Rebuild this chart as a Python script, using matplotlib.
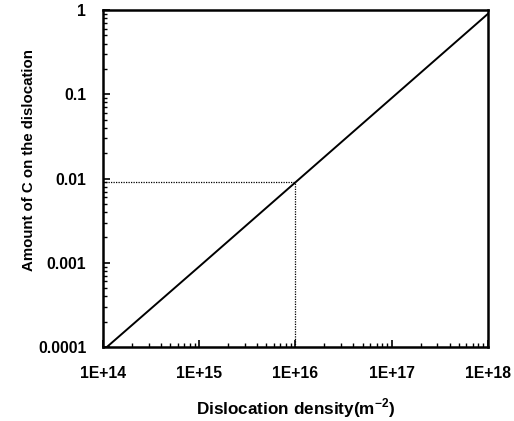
import numpy as np
import matplotlib
matplotlib.use("Agg")
import matplotlib.pyplot as plt
from matplotlib.ticker import LogLocator, FixedLocator, NullFormatter

# dislocation density (m^-2) vs amount of C on dislocations
density = [1.1e14, 1e15, 1e16, 1e17, 1e18]
carbon = [1e-4, 9e-4, 9e-3, 9e-2, 0.9]

# reference point marked with dotted guide lines
ref_density = 1e16
ref_carbon = 9e-3

x_ticks = [1e14, 1e15, 1e16, 1e17, 1e18]
x_labels = ["1E+14", "1E+15", "1E+16", "1E+17", "1E+18"]
y_ticks = [1e-4, 1e-3, 1e-2, 1e-1, 1]
y_labels = ["0.0001", "0.001", "0.01", "0.1", "1"]

plt.rcParams['font.family'] = ['Liberation Sans', 'DejaVu Sans']
plt.rcParams['font.weight'] = 'bold'
plt.rcParams['mathtext.fontset'] = 'custom'
plt.rcParams['mathtext.bf'] = 'Liberation Sans:bold'
plt.rcParams['mathtext.rm'] = 'Liberation Sans:bold'

fig = plt.figure(figsize=(5.14, 4.21), dpi=100)
ax = fig.add_axes([0.2004, 0.176, 0.7486, 0.8])

ax.plot(density, carbon, color="black", lw=1.4)
ax.plot([1e14, ref_density], [ref_carbon, ref_carbon], color="black", lw=0.9, ls=(0, (1, 1)))
ax.plot([ref_density, ref_density], [1e-4, ref_carbon], color="black", lw=0.9, ls=(0, (1, 1)))

ax.set_xscale("log")
ax.set_yscale("log")
ax.set_xlim(1e14, 1e18)
ax.set_ylim(1e-4, 1)

ax.xaxis.set_major_locator(FixedLocator(x_ticks))
ax.set_xticklabels(x_labels)
ax.yaxis.set_major_locator(FixedLocator(y_ticks))
ax.set_yticklabels(y_labels)
ax.xaxis.set_minor_locator(LogLocator(base=10, subs=np.arange(2, 10)))
ax.yaxis.set_minor_locator(LogLocator(base=10, subs=np.arange(2, 10)))
ax.xaxis.set_minor_formatter(NullFormatter())
ax.yaxis.set_minor_formatter(NullFormatter())

ax.tick_params(which="major", direction="in", length=5, width=1.2, labelsize=11.3)
ax.tick_params(which="minor", direction="in", length=3, width=1.0)
ax.tick_params(axis="x", which="major", pad=14)
ax.tick_params(axis="y", which="major", pad=12)
for s in ax.spines.values():
    s.set_linewidth(1.8)

ax.set_xlabel("Dislocation density(m$^{\\mathbf{-2}}$)", fontsize=12.3, fontweight="bold")
ax.set_ylabel("Amount of C on the dislocation", fontsize=10.8, fontweight="bold")
ax.xaxis.set_label_coords(0.5, -0.148)
ax.yaxis.set_label_coords(-0.175, 0.555)

fig.savefig("out.png", dpi=100)
